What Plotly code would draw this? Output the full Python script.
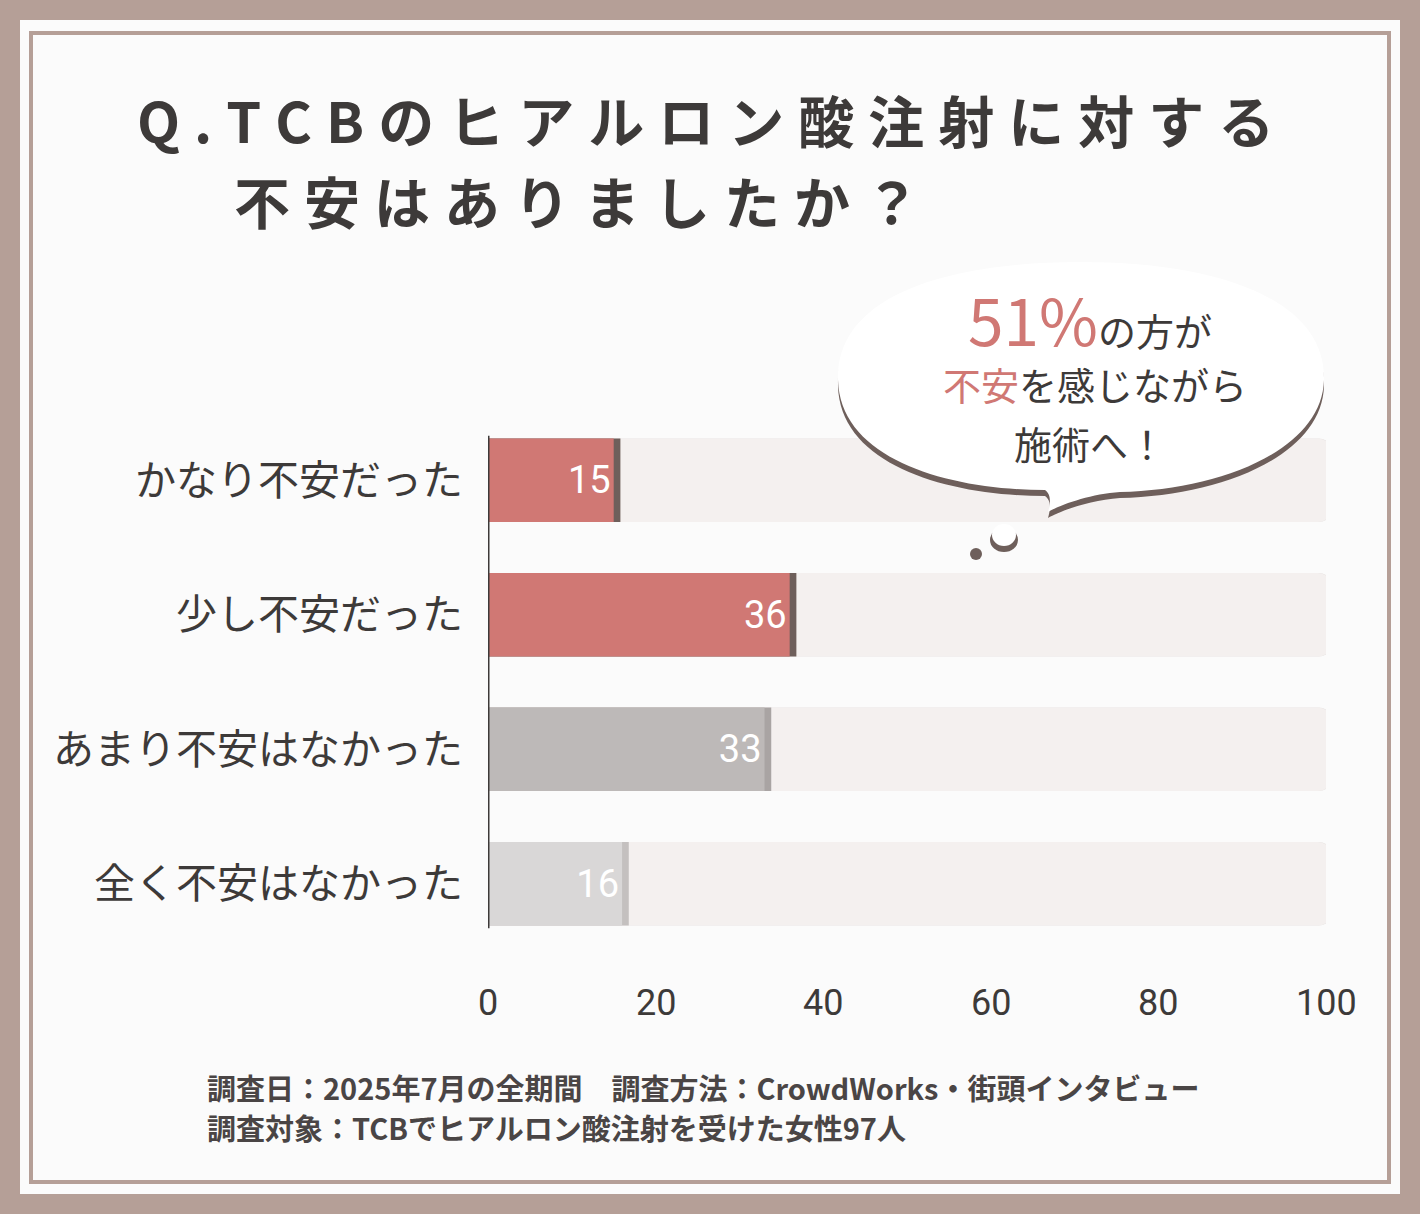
import plotly.graph_objects as go

categories = ["かなり不安だった", "少し不安だった", "あまり不安はなかった", "全く不安はなかった"]
values = [15, 36, 33, 16]
colors = ["#d07874", "#d07874", "#bdb9b8", "#d9d7d7"]
shadow_colors = ["#6e5f5b", "#6e5f5b", "#a9a4a3", "#c4c0bf"]
xticks = [0, 20, 40, 60, 80, 100]

W, H = 1420, 1214
def px(x): return x / W
def py(y): return 1 - y / H

FONT = "Noto Sans CJK JP"
SP = "\u2005"
def spaced(s): return SP.join(s)

fig = go.Figure()
fig.add_bar(y=categories, x=[100.8]*4, orientation="h", marker=dict(color="#e6e2e1", line_width=0, cornerradius=14), width=0.62, hoverinfo="skip")
fig.add_bar(y=categories, x=[100]*4, orientation="h", marker=dict(color="#f4f0ef", line_width=0, cornerradius=14), width=0.62, hoverinfo="skip")
fig.add_bar(y=categories, x=[v + 0.8 for v in values], orientation="h", marker=dict(color=shadow_colors, line_width=0, cornerradius=14), width=0.62, hoverinfo="skip")
fig.add_bar(y=categories, x=values, orientation="h", marker=dict(color=colors, line_width=0, cornerradius=14), width=0.62,
            text=[str(v) for v in values], textposition="inside", insidetextanchor="end",
            textfont=dict(color="white", size=38, family="Roboto"), hoverinfo="skip")

shapes = [
    dict(type="rect", xref="paper", yref="paper", x0=px(20), x1=px(1400), y0=py(1194), y1=py(20), fillcolor="#fbfbfb", line_width=0, layer="below"),
    dict(type="rect", xref="paper", yref="paper", x0=px(31), x1=px(1389), y0=py(1182), y1=py(33), fillcolor="rgba(0,0,0,0)", line=dict(color="#b59f97", width=4), layer="below"),
    dict(type="line", xref="x", yref="y", x0=0, x1=0, y0=-0.33, y1=3.33, line=dict(color="#3d3a39", width=3)),
]

def bubble(dx, dy):
    d = f"M {px(1045+dx)},{py(490+dy)} C {px(950+dx)},{py(490+dy)} {px(840+dx)},{py(460+dy)} {px(838+dx)},{py(380+dy)} "
    d += f"C {px(836+dx)},{py(290+dy)} {px(960+dx)},{py(262+dy)} {px(1080+dx)},{py(262+dy)} "
    d += f"C {px(1220+dx)},{py(262+dy)} {px(1326+dx)},{py(300+dy)} {px(1324+dx)},{py(380+dy)} "
    d += f"C {px(1322+dx)},{py(450+dy)} {px(1220+dx)},{py(490+dy)} {px(1120+dx)},{py(492+dy)} "
    d += f"C {px(1090+dx)},{py(494+dy)} {px(1060+dx)},{py(505+dy)} {px(1048+dx)},{py(512+dy)} "
    d += f"C {px(1050+dx)},{py(505+dy)} {px(1052+dx)},{py(495+dy)} {px(1045+dx)},{py(490+dy)} Z"
    return d

shapes.append(dict(type="path", xref="paper", yref="paper", path=bubble(0, 6), fillcolor="#6e5f5b", line_width=0))
shapes.append(dict(type="path", xref="paper", yref="paper", path=bubble(0, 0), fillcolor="#ffffff", line_width=0))
shapes.append(dict(type="circle", xref="paper", yref="paper", x0=px(990), x1=px(1018), y0=py(552), y1=py(528), fillcolor="#6e5f5b", line_width=0))
shapes.append(dict(type="circle", xref="paper", yref="paper", x0=px(992), x1=px(1016), y0=py(546), y1=py(524), fillcolor="#ffffff", line_width=0))
shapes.append(dict(type="circle", xref="paper", yref="paper", x0=px(970), x1=px(982), y0=py(560), y1=py(548), fillcolor="#6e5f5b", line_width=0))

ann = [
    dict(text=spaced("Q.") + SP + spaced("TCBのヒアルロン酸注射に対する"), x=px(135), y=py(118), xanchor="left", yanchor="middle",
         font=dict(size=56, color="#3d3a39", family=FONT, weight="bold")),
    dict(text=spaced("不安はありましたか？"), x=px(232), y=py(200), xanchor="left", yanchor="middle",
         font=dict(size=56, color="#3d3a39", family=FONT, weight="bold")),
    dict(text="<span style='font-size:64px;color:#d07874'>51%</span>の方が", x=px(1090), y=py(318), xanchor="center", yanchor="middle",
         font=dict(size=38, color="#3d3a39", family=FONT)),
    dict(text="<span style='color:#d07874'>不安</span>を感じながら", x=px(1095), y=py(384), xanchor="center", yanchor="middle",
         font=dict(size=38, color="#3d3a39", family=FONT)),
    dict(text="施術へ！", x=px(1090), y=py(442), xanchor="center", yanchor="middle",
         font=dict(size=38, color="#3d3a39", family=FONT)),
    dict(text="調査日：2025年7月の全期間　調査方法：CrowdWorks・街頭インタビュー", x=px(205), y=py(1087), xanchor="left", yanchor="middle",
         font=dict(size=29, color="#4a4545", family=FONT, weight="bold")),
    dict(text="調査対象：TCBでヒアルロン酸注射を受けた女性97人", x=px(205), y=py(1127), xanchor="left", yanchor="middle",
         font=dict(size=29, color="#4a4545", family=FONT, weight="bold")),
]
for t in xticks:
    ann.append(dict(text=str(t), x=t, xref="x", y=py(1003), yref="paper", showarrow=False, xanchor="center", yanchor="middle",
                    font=dict(size=36, color="#3d3a39", family="Roboto")))
for a in ann:
    a.setdefault("xref", "paper"); a.setdefault("yref", "paper"); a["showarrow"] = False

fig.update_layout(
    width=W, height=H, margin=dict(l=0, r=0, t=0, b=0),
    paper_bgcolor="#b59f97", plot_bgcolor="rgba(0,0,0,0)",
    barmode="overlay", barcornerradius=14, showlegend=False,
    shapes=shapes, annotations=ann,
    xaxis=dict(domain=[px(488), px(1326)], range=[0, 100], showgrid=False, zeroline=False, showticklabels=False),
    yaxis=dict(domain=[py(951), py(413)], autorange="reversed", showgrid=False, zeroline=False,
               tickfont=dict(size=41, color="#3d3a39", family=FONT), ticklabelstandoff=24),
)
fig.write_html("out.html", config={"displayModeBar": False},
               post_script="document.body.style.margin='0';document.body.style.overflow='hidden';")
